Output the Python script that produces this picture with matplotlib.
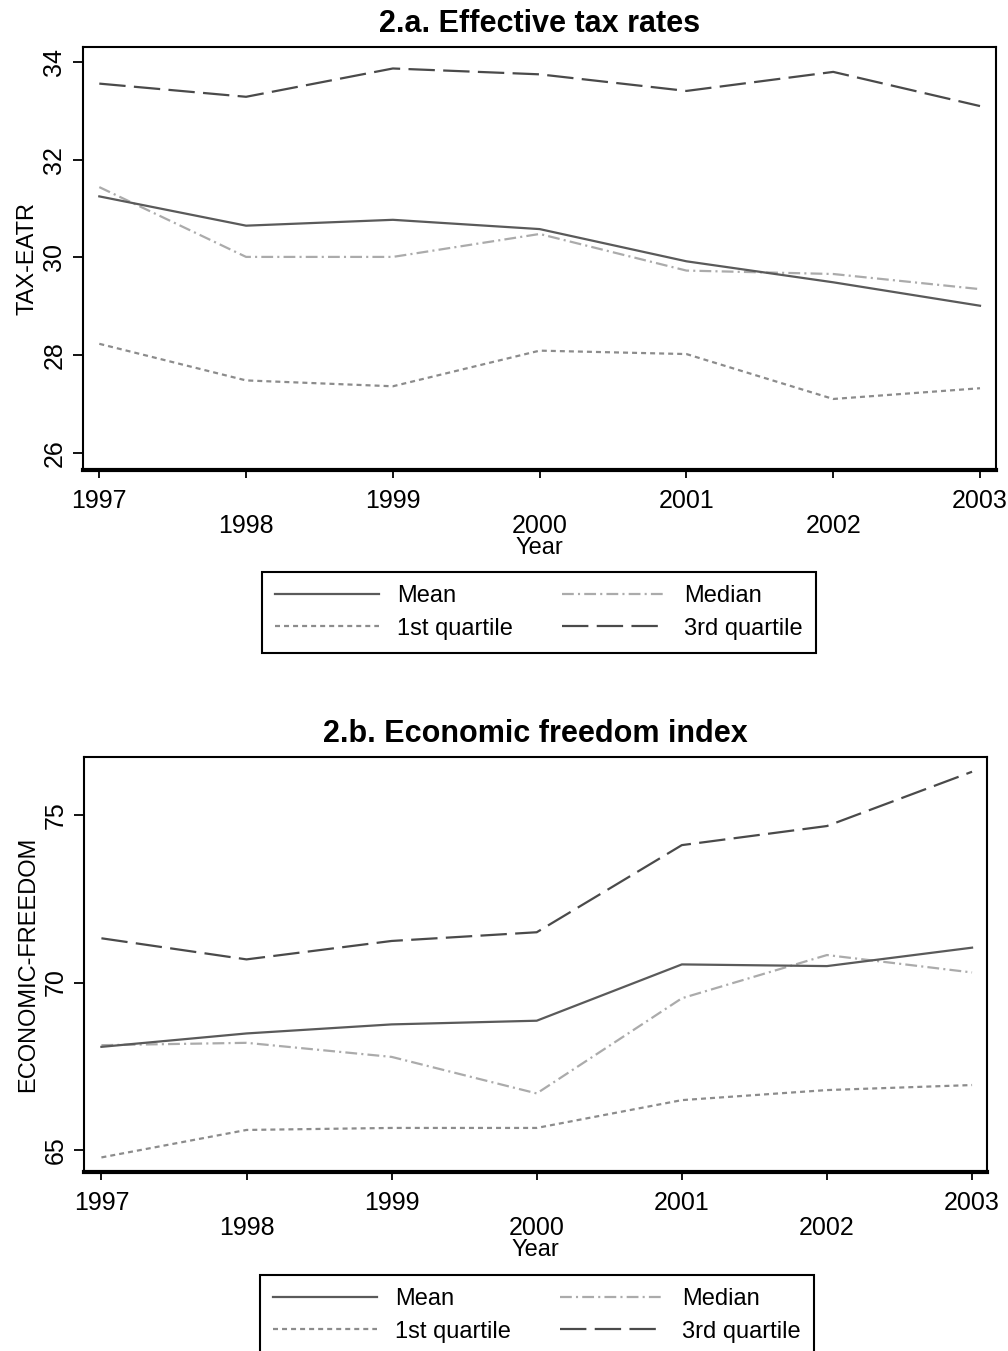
import matplotlib
matplotlib.use("Agg")
import matplotlib.pyplot as plt

plt.rcParams['lines.scale_dashes'] = False

# ---------------- data ----------------
years = [1997, 1998, 1999, 2000, 2001, 2002, 2003]

tax_mean   = [31.25, 30.65, 30.77, 30.58, 29.92, 29.49, 29.01]
tax_median = [31.44, 30.01, 30.01, 30.48, 29.73, 29.66, 29.35]
tax_q1     = [28.23, 27.48, 27.36, 28.09, 28.02, 27.10, 27.32]
tax_q3     = [33.56, 33.29, 33.87, 33.75, 33.41, 33.80, 33.10]

ef_mean   = [68.08, 68.48, 68.75, 68.86, 70.54, 70.49, 71.04]
ef_median = [68.13, 68.20, 67.78, 66.69, 69.53, 70.82, 70.30]
ef_q1     = [64.78, 65.60, 65.66, 65.66, 66.49, 66.79, 66.94]
ef_q3     = [71.32, 70.69, 71.24, 71.50, 74.10, 74.67, 76.29]

tax_yticks = [26, 28, 30, 32, 34]
ef_yticks = [65, 70, 75]

series_labels = ["Mean", "1st quartile", "Median", "3rd quartile"]
titles = ["2.a. Effective tax rates", "2.b. Economic freedom index"]
ylabels = ["TAX-EATR", "ECONOMIC-FREEDOM"]
xlabel = "Year"

# ---------------- styles ----------------
TICK_FONT = ['Liberation Sans Narrow', 'Liberation Sans', 'DejaVu Sans']
REG_FONT = ['Liberation Sans', 'DejaVu Sans']

styles = {
    "Mean":         dict(color="#5a5a5a", lw=1.6, linestyle='-'),
    "1st quartile": dict(color="#8c8c8c", lw=1.6, linestyle=(0, (3.6, 2.9))),
    "Median":       dict(color="#ababab", lw=1.6, linestyle=(0, (8.5, 3, 1.5, 3))),
    "3rd quartile": dict(color="#4a4a4a", lw=1.6, linestyle=(0, (19, 6))),
}

W, H = 1008, 1351
fig = plt.figure(figsize=(W / 100, H / 100), dpi=100)
fig.patch.set_facecolor("white")

def px_axes(l, r, t, b):
    return fig.add_axes([l / W, 1 - b / H, (r - l) / W, (b - t) / H])

panels = [
    dict(box=(83, 996, 47, 470), xlim=(1996.889, 2003.109), ylim=(25.645, 34.31),
         data=[tax_mean, tax_q1, tax_median, tax_q3], yticks=tax_yticks,
         legend_anchor=(539, 572)),
    dict(box=(84, 987, 757, 1171.5), xlim=(1996.88, 2003.103), ylim=(64.36, 76.73),
         data=[ef_mean, ef_q1, ef_median, ef_q3], yticks=ef_yticks,
         legend_anchor=(537, 1275)),
]

for i, p in enumerate(panels):
    ax = px_axes(*p["box"])
    ax.set_facecolor("white")
    order = [3, 2, 1, 0]
    handles = {}
    for k in order:
        lab = series_labels[k]
        ln, = ax.plot(years, p["data"][k], label=lab, **styles[lab])
        handles[lab] = ln
    ax.set_xlim(*p["xlim"])
    ax.set_ylim(*p["ylim"])

    for s in ax.spines.values():
        s.set_linewidth(1.5)
        s.set_color("black")
    ax.spines['bottom'].set_linewidth(3.0)

    ax.set_xticks(years)
    ax.set_xticklabels([str(y) for y in years])
    ax.set_yticks(p["yticks"])
    ax.set_yticklabels([str(v) for v in p["yticks"]], rotation=90, va='center')
    ax.tick_params(axis='x', direction='out', length=6, width=1.3, pad=8, labelsize=18)
    ax.tick_params(axis='y', direction='out', length=7, width=1.3, pad=5, labelsize=18)
    for lbl in ax.get_xticklabels() + ax.get_yticklabels():
        lbl.set_family(TICK_FONT)
    for j, t in enumerate(ax.xaxis.get_major_ticks()):
        if j % 2 == 1:
            t.set_pad(8 + 18)

    ax.set_title(titles[i], fontsize=22, fontweight='bold', family=REG_FONT, pad=11)
    ax.set_ylabel(ylabels[i], fontsize=17, family=REG_FONT, labelpad=3)
    ax.set_xlabel(xlabel, fontsize=17, family=TICK_FONT, labelpad=-1)

    hl = [handles[l] for l in series_labels]
    ax_, ay_ = p["legend_anchor"]
    leg = fig.legend(hl, series_labels, loc='upper center',
                     bbox_to_anchor=(ax_ / W, 1 - ay_ / H), ncol=2,
                     prop=dict(family=TICK_FONT, size=17),
                     frameon=True, fancybox=False, shadow=False, framealpha=1,
                     edgecolor='black', handlelength=4.4, handletextpad=0.75,
                     columnspacing=2.1, borderpad=0.55, labelspacing=0.45,
                     borderaxespad=0)
    leg.get_frame().set_linewidth(1.5)

fig.savefig("out.png", dpi=100, facecolor="white")
